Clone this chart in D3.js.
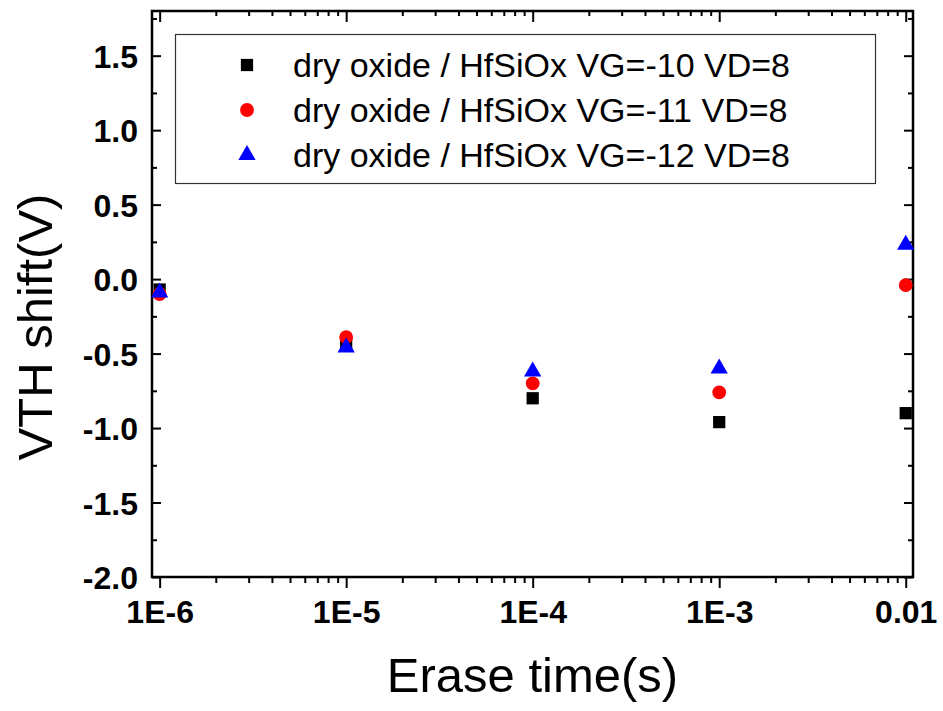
<!DOCTYPE html>
<html>
<head>
<meta charset="utf-8">
<script src="https://cdn.jsdelivr.net/npm/d3@7"></script>
<style>
  body { margin: 0; background: #fff; }
  text { font-family: Arial, "Liberation Sans", sans-serif; }
</style>
</head>
<body>
<script>
// data
var times = [1e-6, 1e-5, 1e-4, 1e-3, 1e-2];
var vg10 = [-0.07, -0.44, -0.80, -0.96, -0.90];
var vg11 = [-0.10, -0.39, -0.70, -0.76, -0.04];
var vg12 = [-0.09, -0.46, -0.62, -0.60, 0.23];
var seriesNames = ['dry oxide / HfSiOx VG=-10 VD=8',
                   'dry oxide / HfSiOx VG=-11 VD=8',
                   'dry oxide / HfSiOx VG=-12 VD=8'];
var xTickLabels = ['1E-6', '1E-5', '1E-4', '1E-3', '0.01'];
var yTicks = [-2.0, -1.5, -1.0, -0.5, 0.0, 0.5, 1.0, 1.5];

var W = 943, H = 711;
var mLeft = 152, mRight = 913, mTop = 11, mBottom = 577;

var svg = d3.select('body')
            .append('svg')
            .attr('width', W)
            .attr('height', H);

var x = d3.scaleLog()
          .domain([Math.pow(10, -6.041), Math.pow(10, -1.961)])
          .range([mLeft, mRight]);
var y = d3.scaleLinear()
          .domain([-2, 1.8])
          .range([mBottom, mTop]);

// hyphen minus like the original, not the unicode one
var fmt = d3.formatLocale({ decimal: '.', thousands: ',', grouping: [3],
                            currency: ['', ''], minus: '-' }).format('.1f');

// minor ticks
var xMinor = [];
for (var e = -6; e <= -3; e++) {
  for (var k = 2; k <= 9; k++) xMinor.push(k * Math.pow(10, e));
}
var yMinor = d3.range(-1.75, 1.8, 0.5);

// bottom axis (ticks outward)
var gB = svg.append('g').attr('transform', 'translate(0,' + mBottom + ')');
gB.call(d3.axisBottom(x).tickValues(times).tickSize(11)
          .tickFormat(function(d, i) { return xTickLabels[i]; }));
gB.append('g').call(d3.axisBottom(x).tickValues(xMinor).tickSize(6).tickFormat(''));

// top axis (ticks inward)
var gT = svg.append('g').attr('transform', 'translate(0,' + mTop + ')');
gT.call(d3.axisBottom(x).tickValues(times).tickSize(11).tickFormat(''));
gT.append('g').call(d3.axisBottom(x).tickValues(xMinor).tickSize(5).tickFormat(''));

// left axis (ticks inward)
var gL = svg.append('g').attr('transform', 'translate(' + mLeft + ',0)');
gL.call(d3.axisRight(y).tickValues(yTicks).tickSize(9).tickFormat(''));
gL.append('g').call(d3.axisRight(y).tickValues(yMinor).tickSize(5).tickFormat(''));
gL.selectAll('.tick').filter(function(d) { return yTicks.indexOf(d) >= 0; })
  .append('text')
  .attr('x', -14)
  .attr('dy', '0.36em')
  .attr('text-anchor', 'end')
  .attr('fill', '#000')
  .text(function(d) { return fmt(d); });

// right axis (ticks inward)
var gR = svg.append('g').attr('transform', 'translate(' + mRight + ',0)');
gR.call(d3.axisLeft(y).tickValues(yTicks).tickSize(9).tickFormat(''));
gR.append('g').call(d3.axisLeft(y).tickValues(yMinor).tickSize(5).tickFormat(''));

svg.selectAll('.domain').remove();
svg.selectAll('.tick line').attr('stroke', '#000').attr('stroke-width', 2);
svg.selectAll('.tick text')
   .style('font-size', '32px')
   .style('font-weight', 'bold')
   .style('font-family', 'Arial, "Liberation Sans", sans-serif');
gB.selectAll('.tick text').attr('y', 46).attr('dy', null);

// frame
svg.append('rect')
   .attr('x', mLeft).attr('y', mTop)
   .attr('width', mRight - mLeft).attr('height', mBottom - mTop)
   .attr('fill', 'none')
   .attr('stroke', '#000')
   .attr('stroke-width', 2.5);

// markers
var square = d3.symbol().type(d3.symbolSquare).size(150);
var circle = d3.symbol().type(d3.symbolCircle).size(150);
var tri = d3.symbol().type(d3.symbolTriangle).size(130);

var series = [
  { vals: vg10, sym: square, color: '#000' },
  { vals: vg11, sym: circle, color: '#ff0000' },
  { vals: vg12, sym: tri, color: '#0000ff' }
];

series.forEach(function(s) {
  svg.append('g')
     .selectAll('path')
     .data(times)
     .enter()
     .append('path')
     .attr('d', s.sym)
     .attr('fill', s.color)
     .attr('transform', function(d, i) {
       return 'translate(' + x(d) + ',' + y(s.vals[i]) + ')';
     });
});

// legend
var lg = svg.append('g');
lg.append('rect')
  .attr('x', 175.5).attr('y', 34.5)
  .attr('width', 700).attr('height', 149)
  .attr('fill', '#fff')
  .attr('stroke', '#333')
  .attr('stroke-width', 1.2);
var rowY = [65, 110, 155];
series.forEach(function(s, i) {
  lg.append('path')
    .attr('d', s.sym)
    .attr('fill', s.color)
    .attr('transform', 'translate(247,' + rowY[i] + ')');
  lg.append('text')
    .attr('x', 293)
    .attr('y', rowY[i])
    .attr('dy', '0.36em')
    .style('font-size', '34px')
    .text(seriesNames[i]);
});

// axis titles
svg.append('text')
   .attr('x', (mLeft + mRight) / 2)
   .attr('y', 692)
   .attr('text-anchor', 'middle')
   .style('font-size', '49px')
   .text('Erase time(s)');

svg.append('text')
   .attr('transform', 'translate(52,327) rotate(-90)')
   .attr('text-anchor', 'middle')
   .style('font-size', '49px')
   .text('VTH shift(V)');
</script>
</body>
</html>
